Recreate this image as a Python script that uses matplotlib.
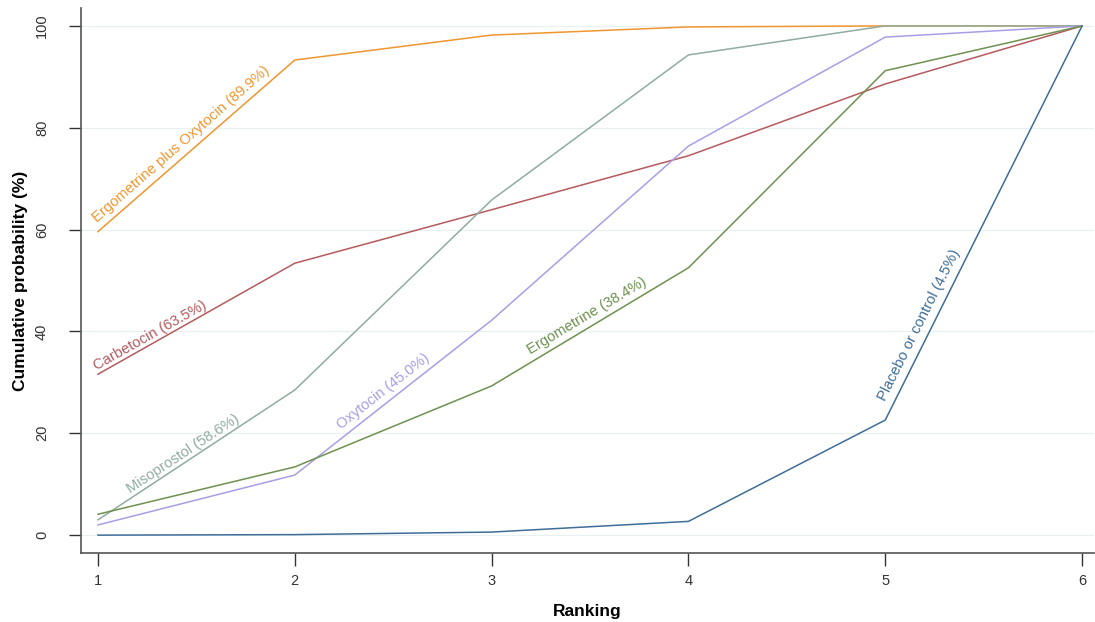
import numpy as np
import matplotlib.pyplot as plt

plt.rcParams['font.family'] = ['Liberation Sans', 'DejaVu Sans']

# Cumulative ranking probabilities (%) for each treatment
ranks = [1, 2, 3, 4, 5, 6]
names = ['Ergometrine plus Oxytocin', 'Carbetocin', 'Misoprostol',
         'Oxytocin', 'Ergometrine', 'Placebo or control']
sucra = [89.9, 63.5, 58.6, 45.0, 38.4, 4.5]
ergo_oxy = [59.6, 93.3, 98.2, 99.8, 100, 100]
carbetocin = [31.6, 53.4, 63.9, 74.5, 88.6, 100]
misoprostol = [3.0, 28.5, 65.8, 94.3, 100, 100]
oxytocin = [2.0, 11.8, 42.2, 76.4, 97.8, 100]
ergometrine = [4.1, 13.4, 29.3, 52.5, 91.2, 100]
placebo = [0.0, 0.1, 0.6, 2.7, 22.6, 100]

series = [ergo_oxy, carbetocin, misoprostol, oxytocin, ergometrine, placebo]
colors = ['#f0962f', '#b65a5e', '#8fac9f', '#a99ee6', '#6e9150', '#3f6d98']

# label baseline start (x, y) and the segment whose slope the label follows
label_pos = [(0.995, 61.4), (0.995, 32.4), (1.166, 8.1), (2.238, 20.8), (3.195, 35.5), (5.0, 26.3)]
label_seg = [0, 0, 0, 1, 2, 4]

fig = plt.figure(figsize=(10.95, 6.22), dpi=100)
ax = fig.add_axes([0.074, 0.111, 0.925, 0.876])

for s, c in zip(series, colors):
    ax.plot(ranks, s, color=c, lw=1.1)

for name, pct, s, c, pos, k in zip(names, sucra, series, colors, label_pos, label_seg):
    ang = np.degrees(np.arctan2(s[k + 1] - s[k], ranks[k + 1] - ranks[k]))
    ax.text(pos[0], pos[1], f'{name} ({pct:.1f}%)', color=c, fontsize=10.6,
            rotation=ang, rotation_mode='anchor', transform_rotates_text=True,
            ha='left', va='baseline')

ax.set_xlim(0.914, 6.06)
ax.set_ylim(-3.5, 103.5)
ax.set_xticks(ranks)
ax.set_yticks(range(0, 101, 20))
ax.set_yticklabels([str(v) for v in range(0, 101, 20)], rotation=90, va='center')
ax.tick_params(labelsize=10.5, colors='#333333', length=9, width=1.0, direction='out')
ax.tick_params(axis='y', pad=14)
ax.tick_params(axis='x', pad=6)
ax.grid(axis='y', color='#e8f0f2', lw=0.9)
ax.set_axisbelow(True)
for side in ['top', 'right']:
    ax.spines[side].set_visible(False)
for side in ['left', 'bottom']:
    ax.spines[side].set_color('#555555')
    ax.spines[side].set_linewidth(1.2)

ax.set_xlabel('Ranking', fontsize=12.5, fontweight='bold', labelpad=12)
ax.set_ylabel('Cumulative probability (%)', fontsize=12.5, fontweight='bold', labelpad=5)

fig.savefig('out.png', dpi=100)
